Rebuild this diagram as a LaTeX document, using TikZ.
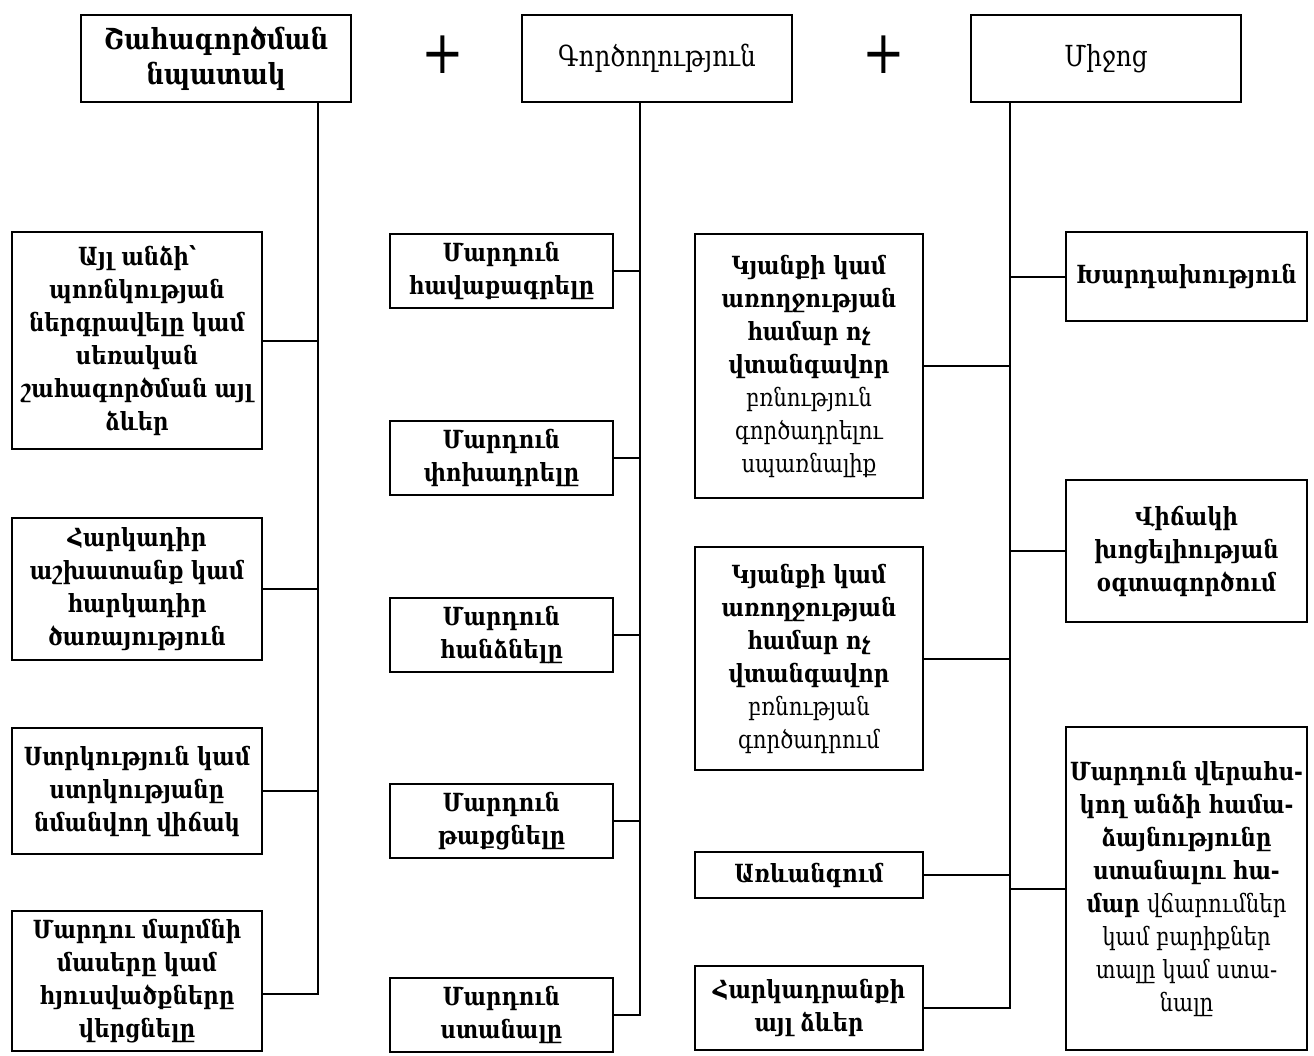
\documentclass[tikz,border=0pt]{standalone}
\usepackage{fontspec}
\setmainfont{DejaVu Serif}[FakeStretch=0.85]
\usetikzlibrary{positioning}
\tikzstyle{base} = [rectangle, draw=black, line width=1pt, align=center, inner sep=1pt, font=\fontsize{12.5}{16.5}\selectfont\bfseries]
\tikzstyle{head} = [base, minimum width=135pt, minimum height=43.5pt, font=\fontsize{14.5}{17.5}\selectfont\bfseries]
\tikzstyle{goal} = [base, minimum width=125pt]
\tikzstyle{act} = [base, minimum width=111.5pt, minimum height=37pt]
\tikzstyle{means} = [base, minimum width=114pt]
\tikzstyle{meansr} = [base, minimum width=120.5pt]
\tikzstyle{plus} = [font=\fontsize{30}{30}\selectfont, inner sep=0pt]
\tikzstyle{link} = [line width=1pt]
\newcommand{\lite}[1]{{\mdseries #1}}

\begin{document}
\begin{tikzpicture}[x=0.5pt, y=-0.5pt]
\useasboundingbox (0,0) rectangle (1314,1056);

% headers
\node (EXPLOIT_GOAL) [head] at (216,58.5) {Շահագործման\\ նպատակ};
\node (ACTION) [head, right=84.5pt of EXPLOIT_GOAL] {\lite{Գործողություն}};
\node (MEANS) [head, right=88.5pt of ACTION] {\lite{Միջոց}};
\node (PLUS_1) [plus] at (443,55) {+};
\node (PLUS_2) [plus] at (884,55) {+};

% purpose of exploitation
\node (PROSTITUTION) [goal, minimum height=108.5pt] at (137,340.5) {Այլ անձի՝\\ պոռնկության\\ ներգրավելը կամ\\ սեռական\\ շահագործման այլ\\ ձևեր};
\node (FORCED_LABOUR) [goal, minimum height=71pt, below=33.5pt of PROSTITUTION] {Հարկադիր\\ աշխատանք կամ\\ հարկադիր\\ ծառայություն};
\node (SLAVERY) [goal, minimum height=63pt, below=33pt of FORCED_LABOUR] {Ստրկություն կամ\\ ստրկությանը\\ նմանվող վիճակ};
\node (ORGANS) [goal, minimum height=70pt, below=27.5pt of SLAVERY] {Մարդու մարմնի\\ մասերը կամ\\ հյուսվածքները\\ վերցնելը};

% action
\node (RECRUIT) [act] at (501.5,271) {Մարդուն\\ հավաքագրելը};
\node (TRANSPORT) [act, below=55.5pt of RECRUIT] {Մարդուն\\ փոխադրելը};
\node (TRANSFER) [act, below=50.5pt of TRANSPORT] {Մարդուն\\ հանձնելը};
\node (HARBOUR) [act, below=55pt of TRANSFER] {Մարդուն\\ թաքցնելը};
\node (RECEIPT) [act, below=59pt of HARBOUR] {Մարդուն\\ ստանալը};

% means
\node (THREAT) [means, minimum height=132pt] at (809,366) {Կյանքի կամ\\ առողջության\\ համար ոչ\\ վտանգավոր\\ \lite{բռնություն}\\ \lite{գործադրելու}\\ \lite{սպառնալիք}};
\node (FORCE) [means, minimum height=111.5pt, below=23.5pt of THREAT] {Կյանքի կամ\\ առողջության\\ համար ոչ\\ վտանգավոր\\ \lite{բռնության}\\ \lite{գործադրում}};
\node (ABDUCTION) [means, minimum height=23pt, below=40pt of FORCE] {Առևանգում};
\node (COERCION) [means, minimum height=42pt, below=33pt of ABDUCTION] {Հարկադրանքի\\ այլ ձևեր};

\node (FRAUD) [meansr, minimum height=44.5pt] at (1186.5,276.5) {Խարդախություն};
\node (VULNERABILITY) [meansr, minimum height=71pt, below=78.5pt of FRAUD] {Վիճակի\\ խոցելիության\\ օգտագործում};
\node (PAYMENTS) [meansr, minimum height=161.5pt, below=51.5pt of VULNERABILITY] {Մարդուն վերահս-\\ կող անձի համա-\\ ձայնությունը\\ ստանալու հա-\\ մար \lite{վճարումներ}\\ \lite{կամ բարիքներ}\\ \lite{տալը կամ ստա-}\\ \lite{նալը}};

\coordinate (TRUNK_GOAL) at (318,0);
\coordinate (TRUNK_ACTION) at (640,0);
\coordinate (TRUNK_MEANS) at (1010,0);

\draw [link] (EXPLOIT_GOAL.south -| TRUNK_GOAL) |- ([yshift=-6.5pt]ORGANS.east);
\draw [link] (PROSTITUTION.east) -- (PROSTITUTION.east -| TRUNK_GOAL);
\draw [link] (FORCED_LABOUR.east) -- (FORCED_LABOUR.east -| TRUNK_GOAL);
\draw [link] (SLAVERY.east) -- (SLAVERY.east -| TRUNK_GOAL);

\draw [link] (ACTION.south -| TRUNK_ACTION) |- (RECEIPT.east);
\draw [link] (RECRUIT.east) -- (RECRUIT.east -| TRUNK_ACTION);
\draw [link] (TRANSPORT.east) -- (TRANSPORT.east -| TRUNK_ACTION);
\draw [link] (TRANSFER.east) -- (TRANSFER.east -| TRUNK_ACTION);
\draw [link] (HARBOUR.east) -- (HARBOUR.east -| TRUNK_ACTION);

\draw [link] (MEANS.south -| TRUNK_MEANS) |- (COERCION.east);
\draw [link] (THREAT.east) -- (THREAT.east -| TRUNK_MEANS);
\draw [link] (FORCE.east) -- (FORCE.east -| TRUNK_MEANS);
\draw [link] (ABDUCTION.east) -- (ABDUCTION.east -| TRUNK_MEANS);
\draw [link] (FRAUD.west) -- (FRAUD.west -| TRUNK_MEANS);
\draw [link] (VULNERABILITY.west) -- (VULNERABILITY.west -| TRUNK_MEANS);
\draw [link] (PAYMENTS.west) -- (PAYMENTS.west -| TRUNK_MEANS);

\end{tikzpicture}
\end{document}
